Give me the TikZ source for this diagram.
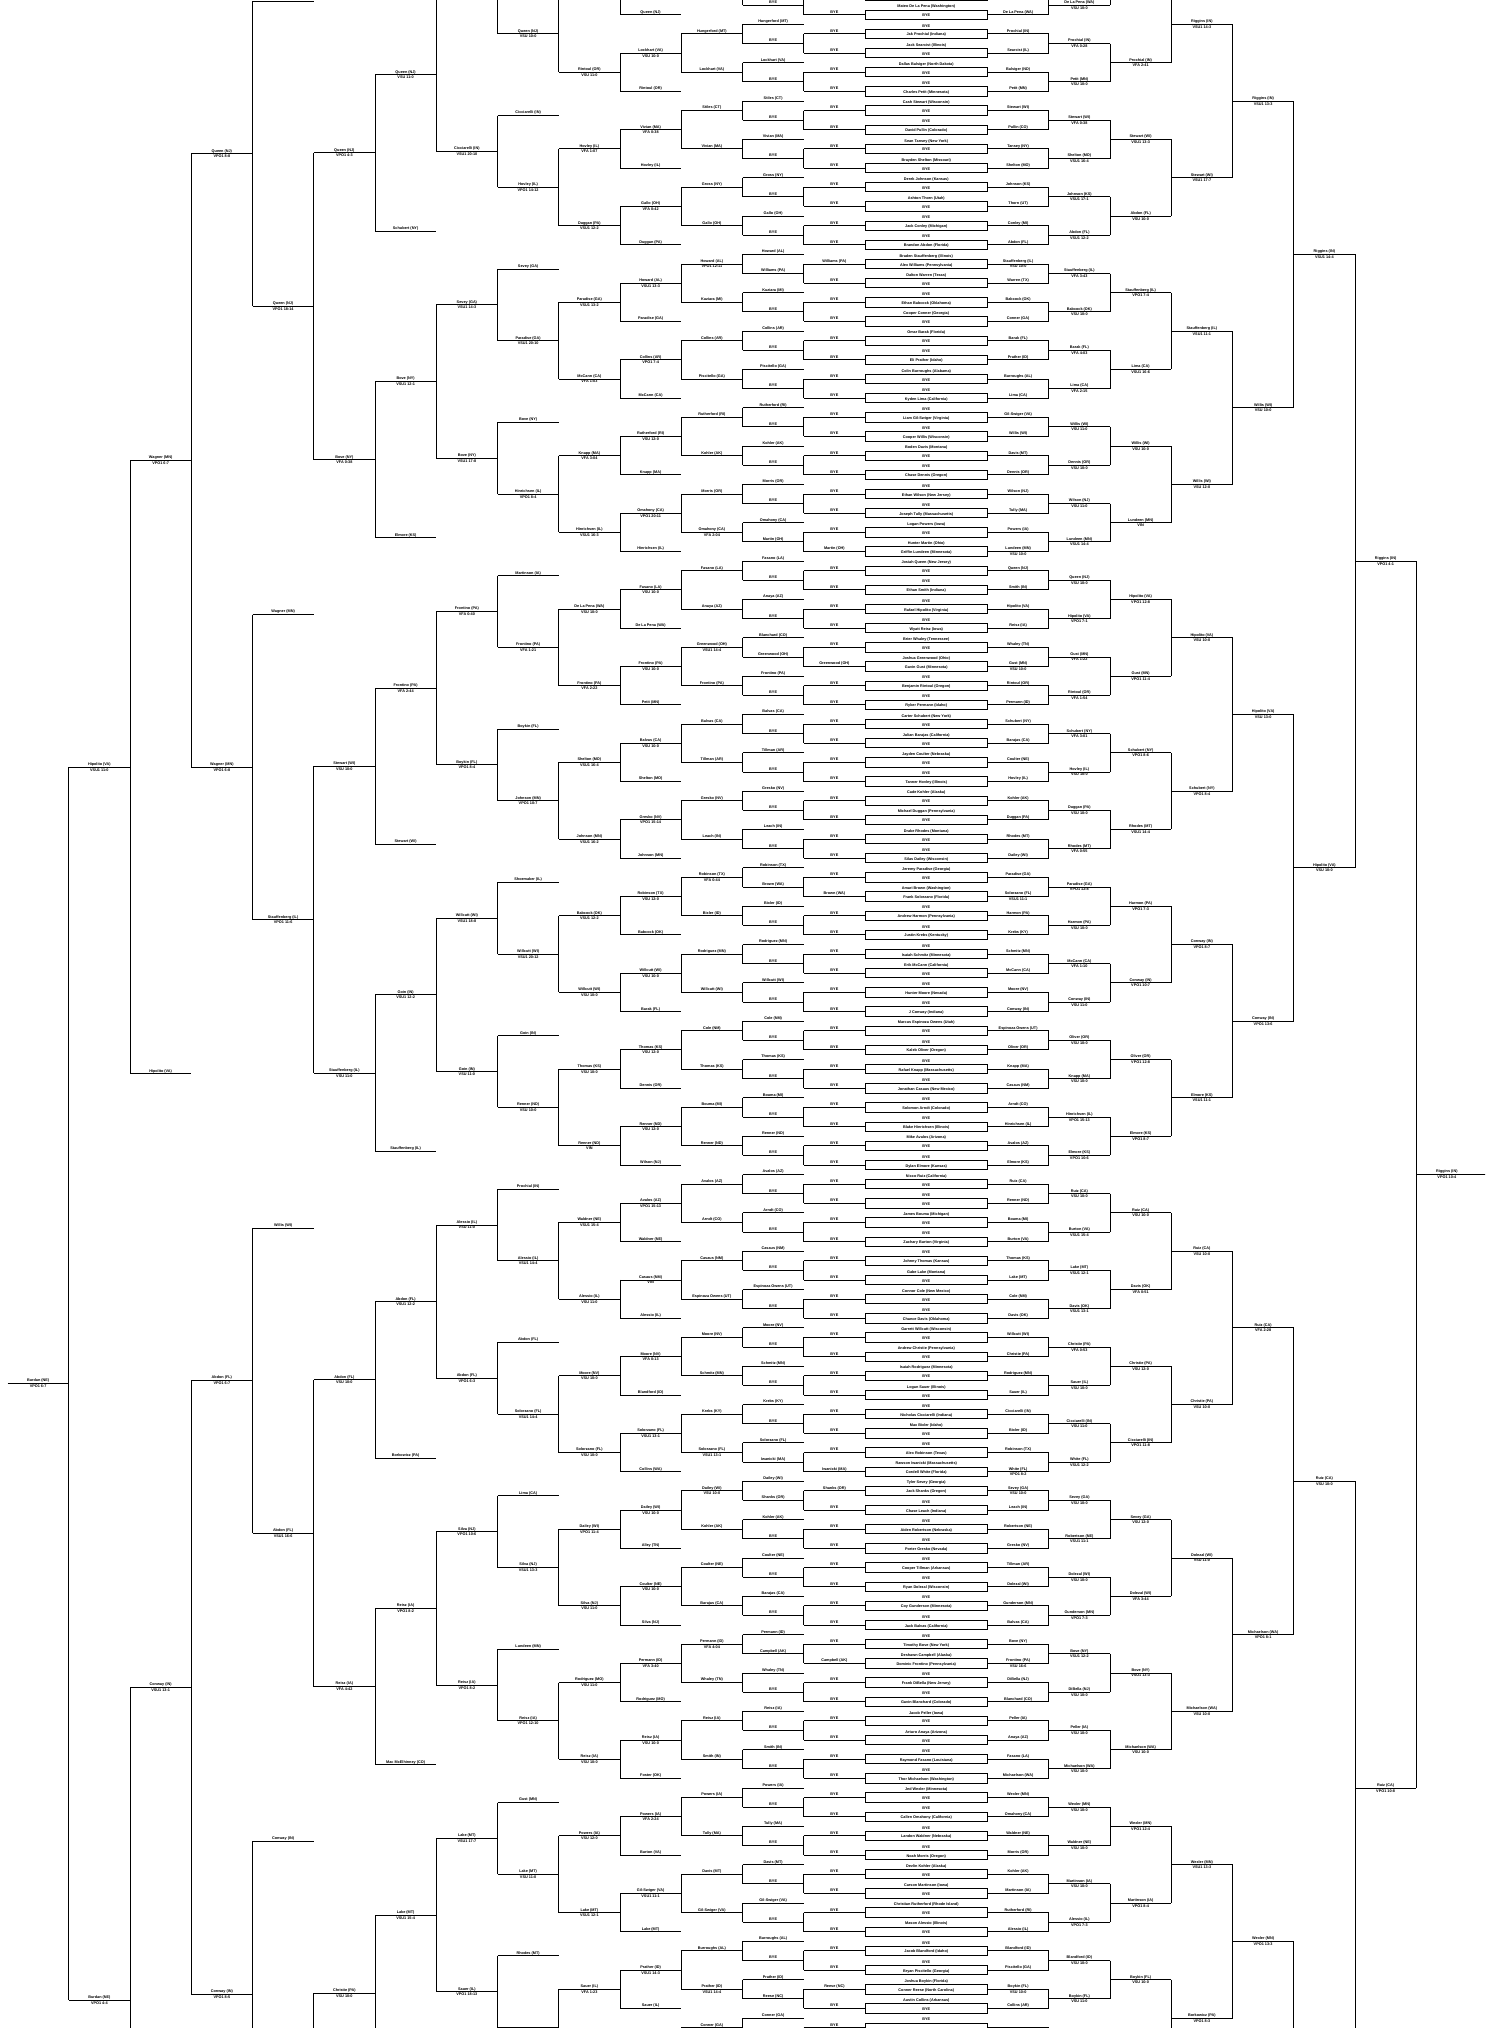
\documentclass[tikz,border=0pt]{standalone}
\usepackage{fontspec}
\setmainfont{Liberation Sans}
\pgfmathdeclarefunction{cy}{1}{\pgfmathparse{14.75+19.17*(#1)}}
\tikzset{
  nm/.style={font=\fontsize{3.8}{4.2}\selectfont\bfseries,inner sep=0pt,anchor=base},
  sc/.style={font=\fontsize{3.8}{4.2}\selectfont\bfseries,inner sep=0pt,anchor=north},
}
\newcommand\qL[4]{\node[nm] at (#1,{#2-1.6}) {#3};\node[sc] at (#1,{#2+0.9}) {#4};}
\newcommand\qN[3]{\node[nm] at (#1,{#2-1.6}) {#3};}
\newcommand\qB[6]{%
  \node[nm] at (926.25,{cy(#1)-6.9}) {#2};%
  \node[nm] at (926.25,{cy(#1)+2.05}) {#3};%
  \node[nm] at (1018.125,{cy(#1)-1.6}) {#4};%
  \node[sc] at (1018.125,{cy(#1)+0.9}) {#5};%
  \node[nm] at (834.375,{cy(#1)-1.6}) {#6};}
\def\xRb{1079.375}\def\xRc{1140.625}\def\xRd{1201.875}\def\xRe{1263.125}
\def\xRf{1324.375}\def\xRg{1385.625}\def\xRh{1446.875}
\def\xLb{773.125}\def\xLc{711.875}\def\xLd{650.625}\def\xLe{589.375}
\def\xLf{528.125}\def\xLg{466.875}\def\xLh{405.625}\def\xLi{344.375}
\def\xLj{283.125}\def\xLk{221.875}\def\xLl{160.625}\def\xLm{99.375}\def\xLn{38.125}
\begin{document}
\begin{tikzpicture}[x=1pt,y=-1pt,line width=0.9pt]
\useasboundingbox (0,0) rectangle (1485,2028);
\fill[white] (0,0) rectangle (1485,2028);
\begin{scope}
\clip (0,0) rectangle (1485,2028);
% ---------- center boxes, first right and left lines
\foreach \k in {-3,...,107}{
  \draw (865,{cy(\k)-4.67}) rectangle (987.5,{cy(\k)+4.67});
  \draw (987.5,{cy(\k)}) -- (1048.75,{cy(\k)});
  \draw (803.75,{cy(\k)}) -- (865,{cy(\k)});
}
% ---------- championship rounds (right)
\foreach \n in {1,...,7}{
  \pgfmathtruncatemacro\sz{2^(\n-1)}
  \pgfmathtruncatemacro\jm{ceil(112/(2*\sz))}
  \pgfmathsetmacro\xr{987.5+\n*61.25}
  \pgfmathsetmacro\xs{\xr+61.25}
  \foreach \i in {0,...,\jm}{
    \pgfmathsetmacro\ka{2*\sz*\i-3+(\sz-1)/2}
    \pgfmathsetmacro\kb{\ka+\sz}
    \pgfmathsetmacro\kn{\ka+\sz/2}
    \draw (\xr,{cy(\ka)}) -- (\xr,{cy(\kb)});
    \draw (\xr,{cy(\kn)}) -- (\xs,{cy(\kn)});
  }
}
\draw (1416.25,{cy(60.5)}) -- (1490,{cy(60.5)});
% ---------- consolation rounds (left)
\foreach \j in {-1,...,54}{
  \pgfmathsetmacro\ka{2*\j-1}
  \draw (803.75,{cy(\ka)}) -- (803.75,{cy(\ka+1)});
  \draw (742.5,{cy(\ka+0.5)}) -- (803.75,{cy(\ka+0.5)});
  \draw (742.5,{cy(\ka-0.5)}) -- (803.75,{cy(\ka-0.5)});
  \draw (742.5,{cy(\ka-0.5)}) -- (742.5,{cy(\ka+0.5)});
  \draw (681.25,{cy(\ka)}) -- (742.5,{cy(\ka)});
}
\foreach \g in {-1,...,27}{
  \pgfmathsetmacro\kk{4*\g}
  \draw (681.25,{cy(\kk+1)}) -- (681.25,{cy(\kk+3)});
  \draw (620,{cy(\kk+2)}) -- (681.25,{cy(\kk+2)});
  \draw (620,{cy(\kk+4)}) -- (681.25,{cy(\kk+4)});
  \draw (620,{cy(\kk+2)}) -- (620,{cy(\kk+4)});
  \draw (558.75,{cy(\kk+3)}) -- (620,{cy(\kk+3)});
}
\foreach \h in {-1,...,14}{
  \pgfmathsetmacro\kk{8*\h}
  \draw (558.75,{cy(\kk-1)}) -- (558.75,{cy(\kk+3)});
  \draw (497.5,{cy(\kk+1)}) -- (558.75,{cy(\kk+1)});
  \draw (497.5,{cy(\kk+5)+5}) -- (558.75,{cy(\kk+5)+5});
  \draw (497.5,{cy(\kk-3)+5}) -- (497.5,{cy(\kk+1)});
  \draw (436.25,{cy(\kk-1)+2.5}) -- (497.5,{cy(\kk-1)+2.5});
}
\foreach \i in {-1,...,7}{
  \pgfmathsetmacro\kk{16*\i}
  \draw (436.25,{cy(\kk-1)+2.5}) -- (436.25,{cy(\kk+7)+2.5});
  \draw (375,{cy(\kk+3)+2.5}) -- (436.25,{cy(\kk+3)+2.5});
  \draw (375,{cy(\kk+11)+5.5}) -- (436.25,{cy(\kk+11)+5.5});
  \draw (375,{cy(\kk+3)+2.5}) -- (375,{cy(\kk+11)+5.5});
  \draw (313.75,{cy(\kk+7)+4}) -- (375,{cy(\kk+7)+4});
}
\foreach \u in {-1,...,3}{
  \pgfmathsetmacro\kk{32*\u}
  \draw (313.75,{cy(\kk+7)+4}) -- (313.75,{cy(\kk+23)+4});
  \draw (252.5,{cy(\kk+15)+4}) -- (313.75,{cy(\kk+15)+4});
  \draw (252.5,{cy(\kk-1)+5.5}) -- (313.75,{cy(\kk-1)+5.5});
  \draw (252.5,{cy(\kk-1)+5.5}) -- (252.5,{cy(\kk+15)+4});
  \draw (191.25,{cy(\kk+7)+4.75}) -- (252.5,{cy(\kk+7)+4.75});
}
\draw (191.25,{cy(7)+4.75}) -- (191.25,{cy(39)+4.75});
\draw (191.25,{cy(71)+4.75}) -- (191.25,{cy(103)+4.75});
\draw (130,{cy(23)+4.75}) -- (191.25,{cy(23)+4.75});
\draw (130,{cy(87)+4.75}) -- (191.25,{cy(87)+4.75});
\draw (130,{cy(55)+4.75}) -- (191.25,{cy(55)+4.75});
\draw (130,{cy(23)+4.75}) -- (130,{cy(55)+4.75});
\draw (130,{cy(87)+4.75}) -- (130,2400);
\draw (68.75,{cy(39)+4.75}) -- (130,{cy(39)+4.75});
\draw (68.75,2000) -- (130,2000);
\draw (68.75,{cy(39)+4.75}) -- (68.75,2000);
\draw (7.5,1383.5) -- (68.75,1383.5);

% ---------- first round boxes: k / top / inside / winner / score / loser
\foreach \k/\ta/\tb/\tc/\td/\te in {
0/Mateo De La Pena (Washington)/BYE/De La Pena (WA)//BYE,
1/BYE/Jak Prochial (Indiana)/Prochial (IN)//BYE,
2/Jack Searcist (Illinois)/BYE/Searcist (IL)//BYE,
3/Dallas Balsiger (North Dakota)/BYE/Balsiger (ND)//BYE,
4/BYE/Charles Petit (Minnesota)/Petit (MN)//BYE,
5/Cash Stewart (Wisconsin)/BYE/Stewart (WI)//BYE,
6/BYE/David Pullin (Colorado)/Pullin (CO)//BYE,
7/Sean Tansey (New York)/BYE/Tansey (NY)//BYE,
8/Brayden Shelton (Missouri)/BYE/Shelton (MO)//BYE,
9/Derek Johnson (Kansas)/BYE/Johnson (KS)//BYE,
10/Ashton Thorn (Utah)/BYE/Thorn (UT)//BYE,
11/BYE/Jack Conley (Michigan)/Conley (MI)//BYE,
12/BYE/Brandon Abdon (Florida)/Abdon (FL)//BYE,
13/Braden Stauffenberg (Illinois)/Alex Williams (Pennsylvania)/Stauffenberg (IL)/VSU 10:0/Williams (PA),
14/Dalton Warren (Texas)/BYE/Warren (TX)//BYE,
15/BYE/Ethan Babcock (Oklahoma)/Babcock (OK)//BYE,
16/Cooper Conner (Georgia)/BYE/Conner (GA)//BYE,
17/Omar Barak (Florida)/BYE/Barak (FL)//BYE,
18/BYE/Eli Prather (Idaho)/Prather (ID)//BYE,
19/Colin Burroughs (Alabama)/BYE/Burroughs (AL)//BYE,
20/BYE/Kyden Lima (California)/Lima (CA)//BYE,
21/BYE/Liam Gil-Swiger (Virginia)/Gil-Swiger (VA)//BYE,
22/BYE/Cooper Willis (Wisconsin)/Willis (WI)//BYE,
23/Boden Davis (Montana)/BYE/Davis (MT)//BYE,
24/BYE/Chase Dennis (Oregon)/Dennis (OR)//BYE,
25/BYE/Ethan Wilson (New Jersey)/Wilson (NJ)//BYE,
26/BYE/Joseph Tully (Massachusetts)/Tully (MA)//BYE,
27/Logan Powers (Iowa)/BYE/Powers (IA)//BYE,
28/Hunter Martin (Ohio)/Griffin Lundeen (Minnesota)/Lundeen (MN)/VSU 10:0/Martin (OH),
29/Josiah Queen (New Jersey)/BYE/Queen (NJ)//BYE,
30/BYE/Ethan Smith (Indiana)/Smith (IN)//BYE,
31/BYE/Rafael Hipolito (Virginia)/Hipolito (VA)//BYE,
32/BYE/Wyatt Reisz (Iowa)/Reisz (IA)//BYE,
33/Brier Whaley (Tennessee)/BYE/Whaley (TN)//BYE,
34/Joshua Greenwood (Ohio)/Gavin Gust (Minnesota)/Gust (MN)/VSU 10:0/Greenwood (OH),
35/BYE/Benjamin Rintoul (Oregon)/Rintoul (OR)//BYE,
36/BYE/Ryker Permann (Idaho)/Permann (ID)//BYE,
37/Carter Schubert (New York)/BYE/Schubert (NY)//BYE,
38/Julian Barajas (California)/BYE/Barajas (CA)//BYE,
39/Jayden Coulter (Nebraska)/BYE/Coulter (NE)//BYE,
40/BYE/Tanner Hovley (Illinois)/Hovley (IL)//BYE,
41/Cade Kohler (Alaska)/BYE/Kohler (AK)//BYE,
42/Michael Duggan (Pennsylvania)/BYE/Duggan (PA)//BYE,
43/Drake Rhodes (Montana)/BYE/Rhodes (MT)//BYE,
44/BYE/Silas Dailey (Wisconsin)/Dailey (WI)//BYE,
45/Jeremy Paradise (Georgia)/BYE/Paradise (GA)//BYE,
46/Amari Brown (Washington)/Frank Solorzano (Florida)/Solorzano (FL)/VSU1 11:1/Brown (WA),
47/BYE/Andrew Harmon (Pennsylvania)/Harmon (PA)//BYE,
48/BYE/Justin Krebs (Kentucky)/Krebs (KY)//BYE,
49/BYE/Isaiah Schmitz (Minnesota)/Schmitz (MN)//BYE,
50/Erik McCann (California)/BYE/McCann (CA)//BYE,
51/BYE/Hunter Moore (Nevada)/Moore (NV)//BYE,
52/BYE/J Conway (Indiana)/Conway (IN)//BYE,
53/Marcus Espinoza Owens (Utah)/BYE/Espinoza Owens (UT)//BYE,
54/BYE/Kaleb Oliver (Oregon)/Oliver (OR)//BYE,
55/BYE/Rafael Knapp (Massachusetts)/Knapp (MA)//BYE,
56/BYE/Jonathan Casaus (New Mexico)/Casaus (NM)//BYE,
57/BYE/Solomon Arndt (Colorado)/Arndt (CO)//BYE,
58/BYE/Blake Hinrichsen (Illinois)/Hinrichsen (IL)//BYE,
59/Mike Avalos (Arizona)/BYE/Avalos (AZ)//BYE,
60/BYE/Dylan Elmore (Kansas)/Elmore (KS)//BYE,
61/Nicco Ruiz (California)/BYE/Ruiz (CA)//BYE,
62/BYE/BYE/Renner (ND)//BYE,
63/James Bouma (Michigan)/BYE/Bouma (MI)//BYE,
64/BYE/Zachary Burton (Virginia)/Burton (VA)//BYE,
65/BYE/Johnny Thomas (Kansas)/Thomas (KS)//BYE,
66/Gabe Lake (Montana)/BYE/Lake (MT)//BYE,
67/Connor Cole (New Mexico)/BYE/Cole (NM)//BYE,
68/BYE/Chance Davis (Oklahoma)/Davis (OK)//BYE,
69/Garrett Willcutt (Wisconsin)/BYE/Willcutt (WI)//BYE,
70/Andrew Christie (Pennsylvania)/BYE/Christie (PA)//BYE,
71/Isaiah Rodriguez (Minnesota)/BYE/Rodriguez (MN)//BYE,
72/Logan Sauer (Illinois)/BYE/Sauer (IL)//BYE,
73/BYE/Nicholas Cicciarelli (Indiana)/Cicciarelli (IN)//BYE,
74/Max Bixler (Idaho)/BYE/Bixler (ID)//BYE,
75/BYE/Alex Robinson (Texas)/Robinson (TX)//BYE,
76/Rawson Iwanicki (Massachusetts)/Cordell White (Florida)/White (FL)/VPO1 8:2/Iwanicki (MA),
77/Tyler Sevey (Georgia)/Jack Shanks (Oregon)/Sevey (GA)/VSU 10:0/Shanks (OR),
78/BYE/Chase Leach (Indiana)/Leach (IN)//BYE,
79/BYE/Aiden Robertson (Nebraska)/Robertson (NE)//BYE,
80/BYE/Porter Gresko (Nevada)/Gresko (NV)//BYE,
81/BYE/Cooper Tillman (Arkansas)/Tillman (AR)//BYE,
82/BYE/Ryan Dolezal (Wisconsin)/Dolezal (WI)//BYE,
83/BYE/Coy Gunderson (Minnesota)/Gunderson (MN)//BYE,
84/BYE/Jack Balvas (California)/Balvas (CA)//BYE,
85/BYE/Timothy Bove (New York)/Bove (NY)//BYE,
86/Deshawn Campbell (Alaska)/Dominic Frontino (Pennsylvania)/Frontino (PA)/VSU 16:6/Campbell (AK),
87/BYE/Frank DiBella (New Jersey)/DiBella (NJ)//BYE,
88/BYE/Gavin Blanchard (Colorado)/Blanchard (CO)//BYE,
89/Jacob Peller (Iowa)/BYE/Peller (IA)//BYE,
90/Arturo Anaya (Arizona)/BYE/Anaya (AZ)//BYE,
91/BYE/Raymond Fasano (Louisiana)/Fasano (LA)//BYE,
92/BYE/Thor Michaelson (Washington)/Michaelson (WA)//BYE,
93/Jed Wexler (Minnesota)/BYE/Wexler (MN)//BYE,
94/BYE/Callen Omahony (California)/Omahony (CA)//BYE,
95/BYE/Landon Waldner (Nebraska)/Waldner (NE)//BYE,
96/BYE/Noah Morris (Oregon)/Morris (OR)//BYE,
97/Devlin Kohler (Alaska)/BYE/Kohler (AK)//BYE,
98/Carson Martinson (Iowa)/BYE/Martinson (IA)//BYE,
99/Christian Rutherford (Rhode Island)/BYE/Rutherford (RI)//BYE,
100/Mason Alessio (Illinois)/BYE/Alessio (IL)//BYE,
101/BYE/Jacob Blandford (Idaho)/Blandford (ID)//BYE,
102/BYE/Bryan Piscitello (Georgia)/Piscitello (GA)//BYE,
103/Joshua Boykin (Florida)/Conner Reese (North Carolina)/Boykin (FL)/VSU 10:0/Reese (NC),
104/Austin Collins (Arkansas)/BYE/Collins (AR)//BYE,
105/BYE////BYE}{\qB{\k}{\ta}{\tb}{\tc}{\td}{\te}}

% ---------- right rounds labels
\foreach \k/\ta/\tb in {
-0.5/De La Pena (WA)/VSU 10:0, 1.5/Prochial (IN)/VFA 0:28, 3.5/Petit (MN)/VSU 10:0,
5.5/Stewart (WI)/VFA 0:38, 7.5/Shelton (MO)/VSU1 16:4, 9.5/Johnson (KS)/VSU1 17:1,
11.5/Abdon (FL)/VSU1 12:2, 13.5/Stauffenberg (IL)/VFA 3:43, 15.5/Babcock (OK)/VSU 10:0,
17.5/Barak (FL)/VFA 4:03, 19.5/Lima (CA)/VFA 2:15, 21.5/Willis (WI)/VSU 11:0,
23.5/Dennis (OR)/VSU 10:0, 25.5/Wilson (NJ)/VSU 11:0, 27.5/Lundeen (MN)/VSU1 14:4,
29.5/Queen (NJ)/VSU 10:0, 31.5/Hipolito (VA)/VPO1 7:1, 33.5/Gust (MN)/VFA 1:22,
35.5/Rintoul (OR)/VFA 1:54, 37.5/Schubert (NY)/VFA 3:01, 39.5/Hovley (IL)/VSU 10:0,
41.5/Duggan (PA)/VSU 10:0, 43.5/Rhodes (MT)/VFA 0:55, 45.5/Paradise (GA)/VPO1 12:8,
47.5/Harmon (PA)/VSU 10:0, 49.5/McCann (CA)/VFA 1:10, 51.5/Conway (IN)/VSU 11:0,
53.5/Oliver (OR)/VSU 10:0, 55.5/Knapp (MA)/VSU 10:0, 57.5/Hinrichsen (IL)/VPO1 15:13,
59.5/Elmore (KS)/VPO1 10:6, 61.5/Ruiz (CA)/VSU 10:0, 63.5/Burton (VA)/VSU1 15:4,
65.5/Lake (MT)/VSU1 12:1, 67.5/Davis (OK)/VSU1 13:1, 69.5/Christie (PA)/VFA 0:53,
71.5/Sauer (IL)/VSU 10:0, 73.5/Cicciarelli (IN)/VSU 11:0, 75.5/White (FL)/VSU1 12:2,
77.5/Sevey (GA)/VSU 10:0, 79.5/Robertson (NE)/VSU1 11:1, 81.5/Dolezal (WI)/VSU 10:0,
83.5/Gunderson (MN)/VPO1 7:3, 85.5/Bove (NY)/VSU1 12:2, 87.5/DiBella (NJ)/VSU 10:0,
89.5/Peller (IA)/VSU 10:0, 91.5/Michaelson (WA)/VSU 10:0, 93.5/Wexler (MN)/VSU 10:0,
95.5/Waldner (NE)/VSU 10:0, 97.5/Martinson (IA)/VSU 10:0, 99.5/Alessio (IL)/VPO1 7:3,
101.5/Blandford (ID)/VSU 10:0, 103.5/Boykin (FL)/VSU 11:0}{\qL{\xRb}{cy(\k)}{\ta}{\tb}}
\foreach \k/\ta/\tb in {
2.5/Prochial (IN)/VFA 2:41, 6.5/Stewart (WI)/VSU1 13:3, 10.5/Abdon (FL)/VSU 10:0,
14.5/Stauffenberg (IL)/VPO1 7:4, 18.5/Lima (CA)/VSU1 16:6, 22.5/Willis (WI)/VSU 10:0,
26.5/Lundeen (MN)/VIN, 30.5/Hipolito (VA)/VPO1 12:8, 34.5/Gust (MN)/VPO1 11:4,
38.5/Schubert (NY)/VPO1 8:6, 42.5/Rhodes (MT)/VSU1 14:4, 46.5/Harmon (PA)/VPO1 7:3,
50.5/Conway (IN)/VPO1 10:7, 54.5/Oliver (OR)/VPO1 12:8, 58.5/Elmore (KS)/VPO1 8:7,
62.5/Ruiz (CA)/VSU 10:0, 66.5/Davis (OK)/VFA 0:51, 70.5/Christie (PA)/VSU 12:0,
74.5/Cicciarelli (IN)/VPO1 11:8, 78.5/Sevey (GA)/VSU 12:0, 82.5/Dolezal (WI)/VFA 3:44,
86.5/Bove (NY)/VSU1 13:3, 90.5/Michaelson (WA)/VSU 10:0, 94.5/Wexler (MN)/VPO1 12:4,
98.5/Martinson (IA)/VPO1 8:4, 102.5/Boykin (FL)/VSU 10:0}{\qL{\xRc}{cy(\k)}{\ta}{\tb}}
\foreach \k/\ta/\tb in {
0.5/Riggins (IN)/VSU1 14:3, 8.5/Stewart (WI)/VSU1 17:7, 16.5/Stauffenberg (IL)/VSU1 11:1,
24.5/Willis (WI)/VSU 12:0, 32.5/Hipolito (VA)/VSU 10:0, 40.5/Schubert (NY)/VPO1 8:4,
48.5/Conway (IN)/VPO1 8:7, 56.5/Elmore (KS)/VSU1 11:1, 64.5/Ruiz (CA)/VSU 10:0,
72.5/Christie (PA)/VSU 10:0, 80.5/Dolezal (WI)/VSU 11:0, 88.5/Michaelson (WA)/VSU 10:0,
96.5/Wexler (MN)/VSU1 13:3, 104.5/Borkowicz (PA)/VPO1 8:3}{\qL{\xRd}{cy(\k)}{\ta}{\tb}}
\foreach \k/\ta/\tb in {
4.5/Riggins (IN)/VSU1 13:3, 20.5/Willis (WI)/VSU 10:0, 36.5/Hipolito (VA)/VSU 13:0,
52.5/Conway (IN)/VPO1 13:6, 68.5/Ruiz (CA)/VFA 2:28, 84.5/Michaelson (WA)/VPO1 8:1,
100.5/Wexler (MN)/VPO1 13:3}{\qL{\xRe}{cy(\k)}{\ta}{\tb}}
\foreach \k/\ta/\tb in {
12.5/Riggins (IN)/VSU1 14:4, 44.5/Hipolito (VA)/VSU 10:0, 76.5/Ruiz (CA)/VSU 10:0}{\qL{\xRf}{cy(\k)}{\ta}{\tb}}
\qL{\xRg}{cy(28.5)}{Riggins (IN)}{VPO1 4:1}
\qL{\xRg}{cy(92.5)}{Ruiz (CA)}{VPO1 10:8}
\qL{\xRh}{cy(60.5)}{Riggins (IN)}{VPO1 10:4}

% ---------- left labels
\foreach \k in {-0.5,1.5,3.5,5.5,7.5,9.5,11.5,15.5,17.5,19.5,21.5,23.5,25.5,29.5,31.5,35.5,37.5,39.5,41.5,43.5,47.5,49.5,51.5,53.5,55.5,57.5,59.5,61.5,63.5,65.5,67.5,69.5,71.5,73.5,79.5,81.5,83.5,87.5,89.5,91.5,93.5,95.5,97.5,99.5,101.5}{\qN{\xLb}{cy(\k)}{BYE}}
\foreach \k/\ta in {13.5/Williams (PA),27.5/Martin (OH),33.5/Greenwood (OH),45.5/Brown (WA),75.5/Iwanicki (MA),77.5/Shanks (OR),85.5/Campbell (AK),103.5/Reese (NC)}{\qN{\xLb}{cy(\k)}{\ta}}
\foreach \k/\ta in {
0.5/Hungerford (MT), 2.5/Lockhart (VA), 4.5/Stiles (CT), 6.5/Vivian (MA), 8.5/Gross (NY),
10.5/Gallo (OH), 12.5/Howard (AL), 14.5/Kuziara (MI), 16.5/Collins (AR), 18.5/Piscitello (GA),
20.5/Rutherford (RI), 22.5/Kohler (AK), 24.5/Morris (OR), 26.5/Omahony (CA), 28.5/Fasano (LA),
30.5/Anaya (AZ), 32.5/Blanchard (CO), 34.5/Frontino (PA), 36.5/Balvas (CA), 38.5/Tillman (AR),
40.5/Gresko (NV), 42.5/Leach (IN), 44.5/Robinson (TX), 46.5/Bixler (ID), 48.5/Rodriguez (MN),
50.5/Willcutt (WI), 52.5/Cole (NM), 54.5/Thomas (KS), 56.5/Bouma (MI), 58.5/Renner (ND),
60.5/Avalos (AZ), 62.5/Arndt (CO), 64.5/Casaus (NM), 66.5/Espinoza Owens (UT), 68.5/Moore (NV),
70.5/Schmitz (MN), 72.5/Krebs (KY), 74.5/Solorzano (FL), 76.5/Dailey (WI), 78.5/Kohler (AK),
80.5/Coulter (NE), 82.5/Barajas (CA), 84.5/Permann (ID), 86.5/Whaley (TN), 88.5/Reisz (IA),
90.5/Smith (IN), 92.5/Powers (IA), 94.5/Tully (MA), 96.5/Davis (MT), 98.5/Gil-Swiger (VA),
100.5/Burroughs (AL), 102.5/Prather (ID), 104.5/Conner (GA)}{\qN{\xLb}{cy(\k)}{\ta}}
\foreach \k/\ta/\tb in {
1/Hungerford (MT)/, 3/Lockhart (VA)/, 5/Stiles (CT)/, 7/Vivian (MA)/, 9/Gross (NY)/, 11/Gallo (OH)/,
13/Howard (AL)/VPO1 12:11, 15/Kuziara (MI)/, 17/Collins (AR)/, 19/Piscitello (GA)/, 21/Rutherford (RI)/,
23/Kohler (AK)/, 25/Morris (OR)/, 27/Omahony (CA)/VFA 2:04, 29/Fasano (LA)/, 31/Anaya (AZ)/,
33/Greenwood (OH)/VSU1 14:4, 35/Frontino (PA)/, 37/Balvas (CA)/, 39/Tillman (AR)/, 41/Gresko (NV)/,
43/Leach (IN)/, 45/Robinson (TX)/VFA 0:44, 47/Bixler (ID)/, 49/Rodriguez (MN)/, 51/Willcutt (WI)/,
53/Cole (NM)/, 55/Thomas (KS)/, 57/Bouma (MI)/, 59/Renner (ND)/, 61/Avalos (AZ)/, 63/Arndt (CO)/,
65/Casaus (NM)/, 67/Espinoza Owens (UT)/, 69/Moore (NV)/, 71/Schmitz (MN)/, 73/Krebs (KY)/,
75/Solorzano (FL)/VSU1 13:1, 77/Dailey (WI)/VSU 10:0, 79/Kohler (AK)/, 81/Coulter (NE)/, 83/Barajas (CA)/,
85/Permann (ID)/VFA 4:04, 87/Whaley (TN)/, 89/Reisz (IA)/, 91/Smith (IN)/, 93/Powers (IA)/, 95/Tully (MA)/,
97/Davis (MT)/, 99/Gil-Swiger (VA)/, 101/Burroughs (AL)/, 103/Prather (ID)/VSU1 14:4, 105/Conner (GA)/}{\qL{\xLc}{cy(\k)}{\ta}{\tb}}
\foreach \k/\ta/\tb in {
2/Lockhart (VA)/VSU 10:0, 6/Vivian (MA)/VFA 0:38, 10/Gallo (OH)/VFA 0:42, 14/Howard (AL)/VSU1 13:3,
18/Collins (AR)/VPO1 7:4, 22/Rutherford (RI)/VSU 12:0, 26/Omahony (CA)/VPO1 20:11, 30/Fasano (LA)/VSU 10:0,
34/Frontino (PA)/VSU 10:0, 38/Balvas (CA)/VSU 10:0, 42/Gresko (NV)/VPO1 15:14, 46/Robinson (TX)/VSU 12:0,
50/Willcutt (WI)/VSU 10:0, 54/Thomas (KS)/VSU 12:0, 58/Renner (ND)/VSU 12:0, 62/Avalos (AZ)/VPO1 15:13,
66/Casaus (NM)/VIN, 70/Moore (NV)/VFA 0:13, 74/Solorzano (FL)/VSU1 13:1, 78/Dailey (WI)/VSU 10:0,
82/Coulter (NE)/VSU 10:0, 86/Permann (ID)/VFA 3:40, 90/Reisz (IA)/VSU 10:0, 94/Powers (IA)/VFA 2:24,
98/Gil-Swiger (VA)/VSU1 11:1, 102/Prather (ID)/VSU1 14:3}{\qL{\xLd}{cy(\k)}{\ta}{\tb}}
\foreach \k/\ta in {
0/Queen (NJ), 4/Rintoul (OR), 8/Hovley (IL), 12/Duggan (PA), 16/Paradise (GA), 20/McCann (CA),
24/Knapp (MA), 28/Hinrichsen (IL), 32/De La Pena (WA), 36/Petit (MN), 40/Shelton (MO), 44/Johnson (MN),
48/Babcock (OK), 52/Barak (FL), 56/Dennis (OR), 60/Wilson (NJ), 64/Waldner (NE), 68/Alessio (IL),
72/Blandford (ID), 76/Collins (WA), 80/Alley (TN), 84/Silva (NJ), 88/Rodriguez (MO), 92/Foster (OK),
96/Burton (VA), 100/Lake (MT), 104/Sauer (IL)}{\qN{\xLd}{cy(\k)}{\ta}}
\foreach \k/\ta/\tb in {
3/Rintoul (OR)/VSU 11:0, 7/Hovley (IL)/VFA 1:07, 11/Duggan (PA)/VSU1 12:2, 15/Paradise (GA)/VSU1 13:2,
19/McCann (CA)/VFA 1:03, 23/Knapp (MA)/VFA 3:04, 27/Hinrichsen (IL)/VSU1 16:3, 31/De La Pena (WA)/VSU 10:0,
35/Frontino (PA)/VFA 2:22, 39/Shelton (MO)/VSU1 16:4, 43/Johnson (MN)/VSU1 16:2, 47/Babcock (OK)/VSU1 12:2,
51/Willcutt (WI)/VSU 10:0, 55/Thomas (KS)/VSU 10:0, 59/Renner (ND)/VIN, 63/Waldner (NE)/VSU1 15:4,
67/Alessio (IL)/VSU 11:0, 71/Moore (NV)/VSU 10:0, 75/Solorzano (FL)/VSU 10:0, 79/Dailey (WI)/VPO1 11:4,
83/Silva (NJ)/VSU 11:0, 87/Rodriguez (MO)/VSU 11:0, 91/Reisz (IA)/VSU 10:0, 95/Powers (IA)/VSU 12:0,
99/Lake (MT)/VSU1 12:1, 103/Sauer (IL)/VFA 1:23}{\qL{\xLe}{cy(\k)}{\ta}{\tb}}
% L6
\foreach \k/\ta/\tb in {
1/Queen (NJ)/VSU 10:0, 9/Hovley (IL)/VPO1 14:12, 17/Paradise (GA)/VSU1 20:10, 25/Hinrichsen (IL)/VPO1 8:4,
33/Frontino (PA)/VFA 1:21, 41/Johnson (MN)/VPO1 10:7, 49/Willcutt (WI)/VSU1 20:12, 57/Renner (ND)/VSU 10:0,
65/Alessio (IL)/VSU1 14:4, 73/Solorzano (FL)/VSU1 14:4, 81/Silva (NJ)/VSU1 13:3, 89/Reisz (IA)/VPO1 12:10,
97/Lake (MT)/VSU 11:0}{\qL{\xLf}{cy(\k)}{\ta}{\tb}}
\foreach \k/\ta in {
5/Cicciarelli (IN), 13/Sevey (GA), 21/Bove (NY), 29/Martinson (IA), 37/Boykin (FL), 45/Shoemaker (IL),
53/Goin (IN), 61/Prochial (IN), 69/Abdon (FL), 77/Lima (CA), 85/Lundeen (MN), 93/Gust (MN),
101/Rhodes (MT)}{\qN{\xLf}{cy(\k)+5}{\ta}}
% L7
\foreach \k/\ta/\tb in {
7/Cicciarelli (IN)/VSU1 20:10, 15/Sevey (GA)/VSU1 14:3, 23/Bove (NY)/VSU1 17:8, 31/Frontino (PA)/VFA 0:40,
39/Boykin (FL)/VPO1 8:4, 47/Willcutt (WI)/VSU1 18:8, 55/Goin (IN)/VSU 11:0, 63/Alessio (IL)/VSU 11:0,
71/Abdon (FL)/VPO1 6:3, 79/Silva (NJ)/VPO1 10:6, 87/Reisz (IA)/VPO1 8:2, 95/Lake (MT)/VSU1 17:7,
103/Sauer (IL)/VPO1 18:13}{\qL{\xLg}{cy(\k)+2.5}{\ta}{\tb}}
% L8
\foreach \k/\ta/\tb in {
3/Queen (NJ)/VSU 11:0, 19/Bove (NY)/VSU1 12:1, 35/Frontino (PA)/VFA 2:44, 51/Goin (IN)/VSU1 12:2,
67/Abdon (FL)/VSU1 12:2, 83/Reisz (IA)/VPO1 8:2, 99/Lake (MT)/VSU1 15:4}{\qL{\xLh}{cy(\k)+2.5}{\ta}{\tb}}
\foreach \k/\ta in {
11/Schubert (NY), 27/Elmore (KS), 43/Stewart (WI), 59/Stauffenberg (IL), 75/Borkowicz (PA),
91/Mac McElhinney (CO)}{\qN{\xLh}{cy(\k)+5.5}{\ta}}
% L9
\foreach \k/\ta/\tb in {
7/Queen (NJ)/VPO1 4:3, 23/Bove (NY)/VFA 0:38, 39/Stewart (WI)/VSU 10:0, 55/Stauffenberg (IL)/VSU 11:0,
71/Abdon (FL)/VSU 10:0, 87/Reisz (IA)/VFA 4:42, 103/Christie (PA)/VSU 10:0}{\qL{\xLi}{cy(\k)+4}{\ta}{\tb}}
% L10
\foreach \k/\ta/\tb in {
15/Queen (NJ)/VPO1 18:14, 47/Stauffenberg (IL)/VPO1 11:6, 79/Abdon (FL)/VSU1 16:6}{\qL{\xLj}{cy(\k)+4}{\ta}{\tb}}
\foreach \k/\ta in {31/Wagner (MN), 63/Willis (WI), 95/Conway (IN)}{\qN{\xLj}{cy(\k)+5.5}{\ta}}
% L11
\foreach \k/\ta/\tb in {
7/Queen (NJ)/VPO1 8:8, 39/Wagner (MN)/VPO1 6:8, 71/Abdon (FL)/VPO1 6:7, 103/Conway (IN)/VPO1 8:5}{\qL{\xLk}{cy(\k)+4.75}{\ta}{\tb}}
% L12
\qL{\xLl}{cy(23)+4.75}{Wagner (MN)}{VPO1 6:7}
\qL{\xLl}{cy(87)+4.75}{Conway (IN)}{VSU1 13:1}
\qN{\xLl}{cy(55)+4.75}{Hipolito (VA)}
% L13, L14
\qL{\xLm}{cy(39)+4.75}{Hipolito (VA)}{VSU1 11:0}
\qL{\xLm}{2000}{Burdan (NE)}{VPO1 4:4}
\qL{\xLn}{1383.5}{Burdan (NE)}{VPO1 6:7}
\end{scope}
\end{tikzpicture}
\end{document}
